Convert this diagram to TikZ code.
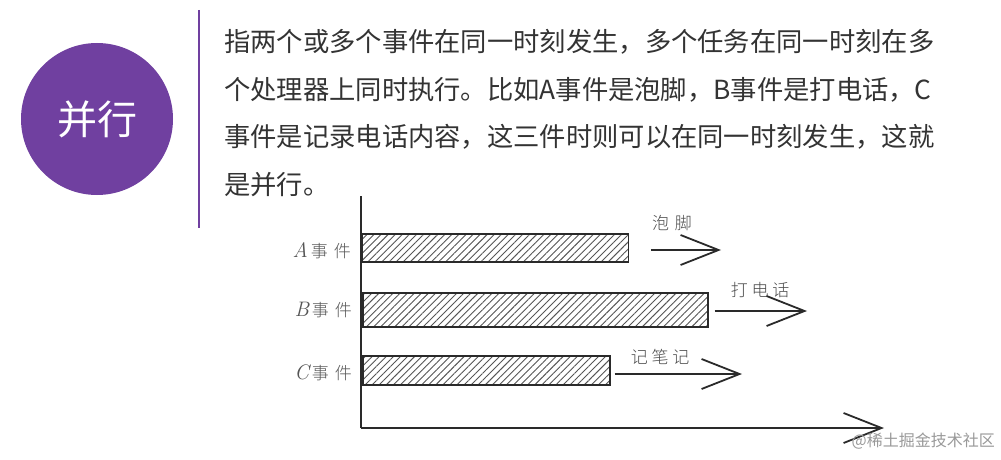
\documentclass[tikz,border=0pt]{standalone}
\usepackage{fontspec}
\newfontfamily\cjk{Noto Sans CJK SC}
\newfontfamily\cjklight{Noto Sans CJK SC Light}
\usetikzlibrary{positioning,arrows.meta,patterns.meta}
\definecolor{violet}{HTML}{7040A0}
\definecolor{ink}{HTML}{333333}
\definecolor{pencil}{HTML}{2A2A2A}
\begin{document}
\begin{tikzpicture}[x=1pt, y=-1pt]
    % Define styles
    \tikzstyle{badge} = [circle, fill=violet, minimum size=152pt, inner sep=0pt, text=white, font=\cjk\fontsize{40}{40}\selectfont]
    \tikzstyle{para} = [anchor=west, inner sep=0pt, text=ink, font=\cjk\fontsize{26.3}{26.3}\selectfont]
    \tikzstyle{bar} = [draw=pencil, line width=1.6pt, anchor=west, minimum height=#1, inner sep=0pt, pattern={Lines[angle=45, distance=5pt, line width=0.9pt]}, pattern color=pencil!80]
    \tikzstyle{event} = [anchor=east, inner sep=0pt, text=pencil!80, font=\cjklight\fontsize{17}{17}\selectfont]
    \tikzstyle{note} = [inner sep=0pt, text=pencil!85, font=\cjklight\fontsize{17}{17}\selectfont]
    \tikzstyle{hand} = [draw=pencil, line width=1.5pt, -{Straight Barb[length=38pt, width=30pt, line width=1.8pt]}]

    \useasboundingbox (0,0) rectangle (1001,460);

    % Place nodes
    \node [badge] (title) at (97,119) {并行};
    \draw [violet, line width=1.8pt] (199,10) -- (199,228);
    \node [para] (l1) at (224,42) {指两个或多个事件在同一时刻发生，多个任务在同一时刻在多};
    \node [para] (l2) at (224,89.5) {个处理器上同时执行。比如A事件是泡脚，B事件是打电话，C};
    \node [para] (l3) at (224,137) {事件是记录电话内容，这三件时则可以在同一时刻发生，这就};
    \node [para] (l4) at (224,184.5) {是并行。};

    \coordinate (origin) at (361,428);
    \coordinate (ytop) at (361,196);
    \coordinate (xend) at (884,428);
    \node [bar=28pt, minimum width=266pt] (barA) at (362,248) {};
    \node [bar=34pt, minimum width=345pt] (barB) at (362,310) {};
    \node [bar=29pt, minimum width=247pt] (barC) at (362,370.5) {};

    \node [event] (evA) at (351,251) {{\rmfamily\itshape\fontsize{21}{21}\selectfont A}\,事\hspace{6pt}件};
    \node [event] (evB) at (352,310) {{\rmfamily\itshape\fontsize{21}{21}\selectfont B}\,事\hspace{6pt}件};
    \node [event] (evC) at (352,373) {{\rmfamily\itshape\fontsize{21}{21}\selectfont C}\,事\hspace{6pt}件};

    \coordinate (endA) at (721,250);
    \coordinate (endB) at (807,311);
    \coordinate (endC) at (742,374);
    \node [note] (noteA) at (672,223) {泡\hspace{6pt}脚};
    \node [note] (noteB) at (760,290) {打 电 话};
    \node [note] (noteC) at (660,357) {记 笔 记};

    % Draw edges
    \draw [draw=pencil, line width=1.8pt] (ytop) -- (origin);
    \path [hand] (origin) -- (xend);
    \path [hand] ([xshift=22pt]barA.east |- endA) -- (endA);
    \path [hand] ([xshift=6pt]barB.east |- endB) -- (endB);
    \path [hand] ([xshift=4pt]barC.east |- endC) -- (endC);

    \node [anchor=east, inner sep=0pt, text=black!40, font=\cjk\fontsize{16}{16}\selectfont] (mark) at (995,441) {@稀土掘金技术社区};
\end{tikzpicture}
\end{document}
